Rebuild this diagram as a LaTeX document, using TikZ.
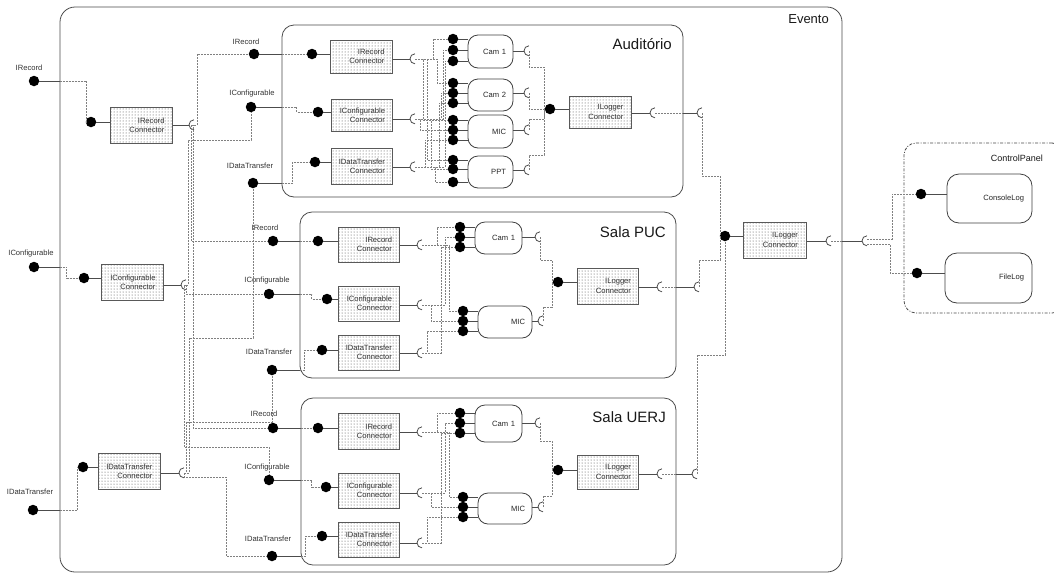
\documentclass[tikz,border=0pt]{standalone}
\usepackage{fontspec}
\setmainfont{Liberation Sans}
\usetikzlibrary{patterns,calc}

% socket: invisible round node plus an open half circle (opening to the right)
\newcommand\sockat[2]{%
  \node[sk] (#1) at (#2) {};
  \draw[wire] (#1.north) arc[start angle=90,end angle=270,radius=5pt];}

\begin{document}
\begin{tikzpicture}[x=1pt,y=-1pt,
  wire/.style={draw=black!70, line width=0.8pt},
  dwire/.style={draw=black!50, line width=0.9pt, dash pattern=on 2pt off 1pt},
  ball/.style={circle, fill=black, minimum size=10.5pt, inner sep=0pt},
  sk/.style={circle, minimum size=10pt, inner sep=0pt},
  conn/.style={draw=black!65, line width=1pt, preaction={fill=white},
    pattern=dots, pattern color=black!75, inner sep=0pt, text width=47pt,
    align=right, font=\fontsize{7.6}{9.2}\selectfont, text=black!80},
  comp/.style={draw=black!75, line width=0.8pt, rounded corners=10pt,
    inner sep=0pt, align=right, font=\fontsize{7.6}{9}\selectfont, text=black!85},
  room/.style={draw=black!70, line width=0.8pt, rounded corners=12pt, inner sep=0pt},
  panel/.style={draw=black!70, line width=0.8pt, rounded corners=12pt, inner sep=0pt,
    dash pattern=on 3pt off 1.5pt on 1pt off 1.5pt},
  lbl/.style={font=\fontsize{7.6}{9}\selectfont, text=black!80, inner sep=0pt},
  ttl/.style={font=\fontsize{15}{18}\selectfont, text=black!90, inner sep=0pt, anchor=east},
]
\clip (0,0) rectangle (1054,574);
\fill[white] (0,0) rectangle (1054,574);

% ---------------- containers ----------------
\node[room, rounded corners=15pt, minimum width=782pt, minimum height=565pt] (evento) at (451,289.5) {};
\node[ttl, font=\fontsize{13}{15}\selectfont] (eventoT) at (829,19) {Evento};
\node[room, minimum width=401pt, minimum height=172pt] (aud) at (482.5,111) {};
\node[ttl] (audT) at (672,44) {Auditório};
\node[room, minimum width=376pt, minimum height=166pt] (puc) at (488,295) {};
\node[ttl] (pucT) at (666,232) {Sala PUC};
\node[room, minimum width=375pt, minimum height=167pt] (uerj) at (488.5,481.5) {};
\node[ttl] (uerjT) at (666,417) {Sala UERJ};
\node[panel, minimum width=160pt, minimum height=170pt] (cpanel) at (984,228) {};
\node[ttl, font=\fontsize{9}{11}\selectfont] (cpanelT) at (1043,158) {ControlPanel};

% ---------------- Evento level ----------------
\node[ball] (iR) at (34,81) {};   \node[lbl] (iRl) at (29,68) {IRecord};
\node[ball] (iC) at (34,267) {};  \node[lbl] (iCl) at (31,254) {IConfigurable};
\node[ball] (iD) at (33,510) {};  \node[lbl] (iDl) at (30,492) {IDataTransfer};

\node[conn, minimum width=62pt, minimum height=36pt] (rc) at (141,125) {IRecord\\Connector};
\node[conn, minimum width=62pt, minimum height=36pt] (cc) at (132,282) {IConfigurable\\Connector};
\node[conn, minimum width=62pt, minimum height=36pt] (dc) at (129,471) {IDataTransfer\\Connector};
\node[ball] (rcB) at (91,122) {};
\node[ball] (ccB) at (84,278) {};
\node[ball] (dcB) at (83,467) {};
\sockat{rcS}{194,125}
\sockat{ccS}{186,285}
\sockat{dcS}{184,473}

\node[conn, minimum width=63pt, minimum height=36pt] (tl) at (774.5,240) {ILogger\\Connector};
\node[ball] (tlB) at (725,236) {};
\coordinate (tlJ) at (720,236);
\sockat{tlS}{831,241}
\sockat{tlX}{867,241}

\node[comp, rounded corners=12pt, minimum width=85pt, minimum height=49pt, text width=69pt] (console) at (989.5,198.5) {ConsoleLog};
\node[comp, rounded corners=12pt, minimum width=87pt, minimum height=50pt, text width=71pt] (filelog) at (988.5,278) {FileLog};
\node[ball] (cB) at (921,194) {};
\node[ball] (fB) at (917,273) {};

% ---------------- Auditório ----------------
\node[ball] (aRo) at (254,54) {};  \node[lbl] (aRl) at (246,42) {IRecord};
\node[ball] (aCo) at (251,107) {}; \node[lbl] (aCl) at (252,94) {IConfigurable};
\node[ball] (aDo) at (253,183) {}; \node[lbl] (aDl) at (250,166) {IDataTransfer};
\node[conn, minimum width=62pt, minimum height=33pt] (aRc) at (361,56.5) {IRecord\\Connector};
\node[conn, minimum width=61pt, minimum height=32pt] (aCc) at (361.5,115) {IConfigurable\\Connector};
\node[conn, minimum width=61pt, minimum height=36pt] (aDc) at (361.5,166) {IDataTransfer\\Connector};
\node[ball] (aRi) at (312,54) {};
\node[ball] (aCi) at (318,112) {};
\node[ball] (aDi) at (315,162) {};
\sockat{aRs}{415,59}
\sockat{aCs}{415,119}
\sockat{aDs}{415,167}

\node[comp, minimum width=45pt, minimum height=33pt, text width=31pt] (a1) at (490.5,51.5) {Cam 1};
\node[comp, minimum width=45pt, minimum height=32pt, text width=31pt] (a2) at (490.5,95) {Cam 2};
\node[comp, minimum width=45pt, minimum height=33pt, text width=31pt] (a3) at (490.5,131.5) {MIC};
\node[comp, minimum width=45pt, minimum height=32pt, text width=31pt] (a4) at (490.5,172) {PPT};
\node[ball] (a1r) at (453,39) {};  \node[ball] (a1c) at (453,50) {};  \node[ball] (a1d) at (453,61) {};
\node[ball] (a2r) at (453,83) {};  \node[ball] (a2c) at (453,93) {};  \node[ball] (a2d) at (453,103) {};
\node[ball] (a3r) at (453,120) {}; \node[ball] (a3c) at (453,130) {}; \node[ball] (a3d) at (453,140) {};
\node[ball] (a4r) at (453,160) {}; \node[ball] (a4c) at (453,169) {}; \node[ball] (a4d) at (453,182) {};
\sockat{aS1}{529,51}
\sockat{aS2}{529,93}
\sockat{aS3}{529,130}
\sockat{aS4}{529,170}

\node[conn, minimum width=62pt, minimum height=32pt] (aL) at (600,112) {ILogger\\Connector};
\node[ball] (aLb) at (550,109) {};
\coordinate (aLj) at (544,109);
\sockat{aLs}{655,113}
\sockat{aLx}{702,113}

% ---------------- Sala PUC ----------------
\node[ball] (pRo) at (273,241) {}; \node[lbl] (pRl) at (265,228) {IRecord};
\node[ball] (pCo) at (269,294) {}; \node[lbl] (pCl) at (267,281) {IConfigurable};
\node[ball] (pDo) at (272,370) {}; \node[lbl] (pDl) at (269,352) {IDataTransfer};
\node[conn, minimum width=61pt, minimum height=35pt] (pRc) at (368.5,244.5) {IRecord\\Connector};
\node[conn, minimum width=61pt, minimum height=35pt] (pCc) at (368.5,303.5) {IConfigurable\\Connector};
\node[conn, minimum width=61pt, minimum height=35pt] (pDc) at (368.5,352.5) {IDataTransfer\\Connector};
\node[ball] (pRi) at (318,241) {};
\node[ball] (pCi) at (327,299) {};
\node[ball] (pDi) at (322,350) {};
\sockat{pRs}{422,245}
\sockat{pCs}{422,305}
\sockat{pDs}{422,353}

\node[comp, minimum width=47pt, minimum height=32pt, text width=33pt] (p1) at (498.5,238) {Cam 1};
\node[comp, minimum width=54pt, minimum height=32pt, text width=40pt] (p2) at (505,322) {MIC};
\node[ball] (p1r) at (460,227) {}; \node[ball] (p1c) at (460,237) {}; \node[ball] (p1d) at (460,247) {};
\node[ball] (p2r) at (463,311) {}; \node[ball] (p2c) at (463,321) {}; \node[ball] (p2d) at (463,331) {};
\sockat{pS1}{540,237}
\sockat{pS2}{543,321}

\node[conn, minimum width=61pt, minimum height=36pt] (pL) at (607.5,286) {ILogger\\Connector};
\node[ball] (pLb) at (558,282) {};
\coordinate (pLj) at (552,282);
\sockat{pLs}{662,287}
\sockat{pLx}{699,287}

% ---------------- Sala UERJ ----------------
\node[ball] (uRo) at (273,428) {}; \node[lbl] (uRl) at (264,414) {IRecord};
\node[ball] (uCo) at (269,480) {}; \node[lbl] (uCl) at (267,468) {IConfigurable};
\node[ball] (uDo) at (272,556) {}; \node[lbl] (uDl) at (268,539) {IDataTransfer};
\node[conn, minimum width=61pt, minimum height=36pt] (uRc) at (368.5,431) {IRecord\\Connector};
\node[conn, minimum width=61pt, minimum height=35pt] (uCc) at (368.5,490.5) {IConfigurable\\Connector};
\node[conn, minimum width=61pt, minimum height=35pt] (uDc) at (368.5,539.5) {IDataTransfer\\Connector};
\node[ball] (uRi) at (318,428) {};
\node[ball] (uCi) at (326,487) {};
\node[ball] (uDi) at (322,536) {};
\sockat{uRs}{422,432}
\sockat{uCs}{422,493}
\sockat{uDs}{422,543}

\node[comp, minimum width=47pt, minimum height=37pt, text width=33pt] (u1) at (498.5,423.5) {Cam 1};
\node[comp, minimum width=54pt, minimum height=31pt, text width=40pt] (u2) at (505,508.5) {MIC};
\node[ball] (u1r) at (460,413) {}; \node[ball] (u1c) at (460,423) {}; \node[ball] (u1d) at (460,433) {};
\node[ball] (u2r) at (463,497) {}; \node[ball] (u2c) at (463,507) {}; \node[ball] (u2d) at (463,517) {};
\sockat{uS1}{540,423}
\sockat{uS2}{543,507}

\node[conn, minimum width=61pt, minimum height=34pt] (uL) at (607.5,472) {ILogger\\Connector};
\node[ball] (uLb) at (558,470) {};
\coordinate (uLj) at (552,470);
\sockat{uLs}{662,474}
\sockat{uLx}{697,474}

% ---------------- solid ball / socket stems ----------------
\foreach \b in {iR,iC,iD} \draw[wire] (\b) -- (\b -| evento.west);
\foreach \b in {aRo,aCo,aDo} \draw[wire] (\b) -- (\b -| aud.west);
\foreach \b in {pRo,pCo,pDo} \draw[wire] (\b) -- (\b -| puc.west);
\foreach \b in {uRo,uCo,uDo} \draw[wire] (\b) -- (\b -| uerj.west);
\foreach \b/\c in {rcB/rc,ccB/cc,dcB/dc,tlB/tl,cB/console,fB/filelog,
    aRi/aRc,aCi/aCc,aDi/aDc,aLb/aL,pRi/pRc,pCi/pCc,pDi/pDc,pLb/pL,
    uRi/uRc,uCi/uCc,uDi/uDc,uLb/uL,
    a1r/a1,a1c/a1,a1d/a1,a2r/a2,a2c/a2,a2d/a2,a3r/a3,a3c/a3,a3d/a3,a4r/a4,a4c/a4,a4d/a4,
    p1r/p1,p1c/p1,p1d/p1,p2r/p2,p2c/p2,p2d/p2,u1r/u1,u1c/u1,u1d/u1,u2r/u2,u2c/u2,u2d/u2}
  \draw[wire] (\b) -- (\b -| \c.west);
\foreach \s/\c in {rcS/rc,ccS/cc,dcS/dc,tlS/tl,aRs/aRc,aCs/aCc,aDs/aDc,aLs/aL,
    pRs/pRc,pCs/pCc,pDs/pDc,pLs/pL,uRs/uRc,uCs/uCc,uDs/uDc,uLs/uL,
    aS1/a1,aS2/a2,aS3/a3,aS4/a4,pS1/p1,pS2/p2,uS1/u1,uS2/u2}
  \draw[wire] (\s.west -| \c.east) -- (\s.west);
\draw[wire] (aLs -| aud.east) -- (aLx.west);
\draw[wire] (pLs -| puc.east) -- (pLx.west);
\draw[wire] (uLs -| uerj.east) -- (uLx.west);
\draw[wire] (tlS -| evento.east) -- (tlX.west);

% ---------------- dashed assembly wiring: Evento ----------------
\draw[dwire] (iR -| evento.west) -- ++(27,0) |- (rcB);
\draw[dwire] (iC -| evento.west) -- ++(7,0) |- (ccB);
\draw[dwire] (iD -| evento.west) -- ++(18,0) |- (dcB);

\draw[dwire] (rcS.center) -- ++(3,0) |- (aRo);
\draw[dwire] (rcS.center) -- ++(-3,0) |- (pRo);
\draw[dwire] (rcS.center) -- ++(-1,0) |- (uRo);
\draw[dwire] (ccS.center) -- ++(2,0) -- ++(0,-145) -| (aCo);
\draw[dwire] (ccS.center) |- (pCo);
\draw[dwire] (ccS.center) -- ++(-2,0) -- ++(0,162) -| (uCo);
\draw[dwire] (dcS.center) -- ++(5,0) -- ++(0,-135) -| (aDo);
\draw[dwire] (dcS.center) -- ++(2,0) -- ++(0,-51) -| (pDo);
\draw[dwire] (dcS.center) -- ++(0,4) -- ++(42,0) |- (uDo);

\draw[dwire] (aLx.center) -- ++(0,63) -| (tlJ) -- (tlB);
\draw[dwire] (pLx.center) -- ++(0,-27) -| (tlJ) -- (tlB);
\draw[dwire] (uLx.center) -- ++(0,-119) -| (tlB);
\draw[dwire] (tlS.center) -- (tlS -| evento.east);
\draw[dwire] ([yshift=2pt]tlX.center) -- ++(25,0) |- (cB);
\draw[dwire] ([yshift=-3pt]tlX.center) -- ++(23,0) |- (fB);

% ---------------- dashed wiring: Auditório ----------------
\draw[dwire] (aRo -| aud.west) -- (aRi);
\draw[dwire] (aCo -| aud.west) -- ++(15,0) |- (aCi);
\draw[dwire] (aDo -| aud.west) -- ++(11,0) |- (aDi);
\draw[dwire] (aRs.center) -- ++(18,0) |- (a1r);
\draw[dwire] (aRs.center) -- ++(22,0) |- (a2r);
\draw[dwire] (aRs.center) -- ++(8,0) |- (a3r);
\draw[dwire] (aRs.center) -- ++(12,0) |- (a4r);
\draw[dwire] (aCs.center) -- ++(28,0) |- (a1c);
\draw[dwire] (aCs.center) -- ++(26,0) |- (a2c);
\draw[dwire] (aCs.center) -- ++(5,0) |- (a3c);
\draw[dwire] (aCs.center) -- ++(16,0) |- (a4c);
\draw[dwire] (aDs.center) -- ++(30,0) |- (a1d);
\draw[dwire] (aDs.center) -- ++(24,0) |- (a2d);
\draw[dwire] (aDs.center) -- ++(10,0) |- (a3d);
\draw[dwire] (aDs.center) -- ++(20,0) |- (a4d);
\draw[dwire] (aS1.center) -- ++(0,16) -| (aLj) -- (aLb);
\draw[dwire] (aS2.center) |- (aLb);
\draw[dwire] (aS3.center) -- ++(0,-11) -| (aLj) -- (aLb);
\draw[dwire] (aS4.center) -- ++(0,-15) -| (aLj) -- (aLb);
\draw[dwire] (aLs.center) -- (aLs -| aud.east);

% ---------------- dashed wiring: Sala PUC ----------------
\draw[dwire] (pRo -| puc.west) -- (pRi);
\draw[dwire] (pCo -| puc.west) -- ++(12,0) |- (pCi);
\draw[dwire] (pDo -| puc.west) -- ++(5,0) |- (pDi);
\draw[dwire] (pRs.center) -- ++(15,0) |- (p1r);
\draw[dwire] (pRs.center) -- ++(27,0) |- (p2r);
\draw[dwire] (pCs.center) -- ++(23,0) |- (p1c);
\draw[dwire] (pCs.center) -- ++(9,0) |- (p2c);
\draw[dwire] (pDs.center) -- ++(19,0) |- (p1d);
\draw[dwire] (pDs.center) -- ++(5,0) |- (p2d);
\draw[dwire] (pS1.center) -- ++(0,23) -| (pLj) -- (pLb);
\draw[dwire] (pS2.center) -- ++(0,-14) -| (pLj) -- (pLb);
\draw[dwire] (pLs.center) -- (pLs -| puc.east);

% ---------------- dashed wiring: Sala UERJ ----------------
\draw[dwire] (uRo -| uerj.west) -- (uRi);
\draw[dwire] (uCo -| uerj.west) -- ++(11,0) |- (uCi);
\draw[dwire] (uDo -| uerj.west) -- ++(5,0) |- (uDi);
\draw[dwire] (uRs.center) -- ++(15,0) |- (u1r);
\draw[dwire] (uRs.center) -- ++(27,0) |- (u2r);
\draw[dwire] (uCs.center) -- ++(23,0) |- (u1c);
\draw[dwire] (uCs.center) -- ++(9,0) |- (u2c);
\draw[dwire] (uDs.center) -- ++(19,0) |- (u1d);
\draw[dwire] (uDs.center) -- ++(5,0) |- (u2d);
\draw[dwire] (uS1.center) -- ++(0,18) -| (uLj) -- (uLb);
\draw[dwire] (uS2.center) -- ++(0,-11) -| (uLj) -- (uLb);
\draw[dwire] (uLs.center) -- (uLs -| uerj.east);
\end{tikzpicture}
\end{document}
